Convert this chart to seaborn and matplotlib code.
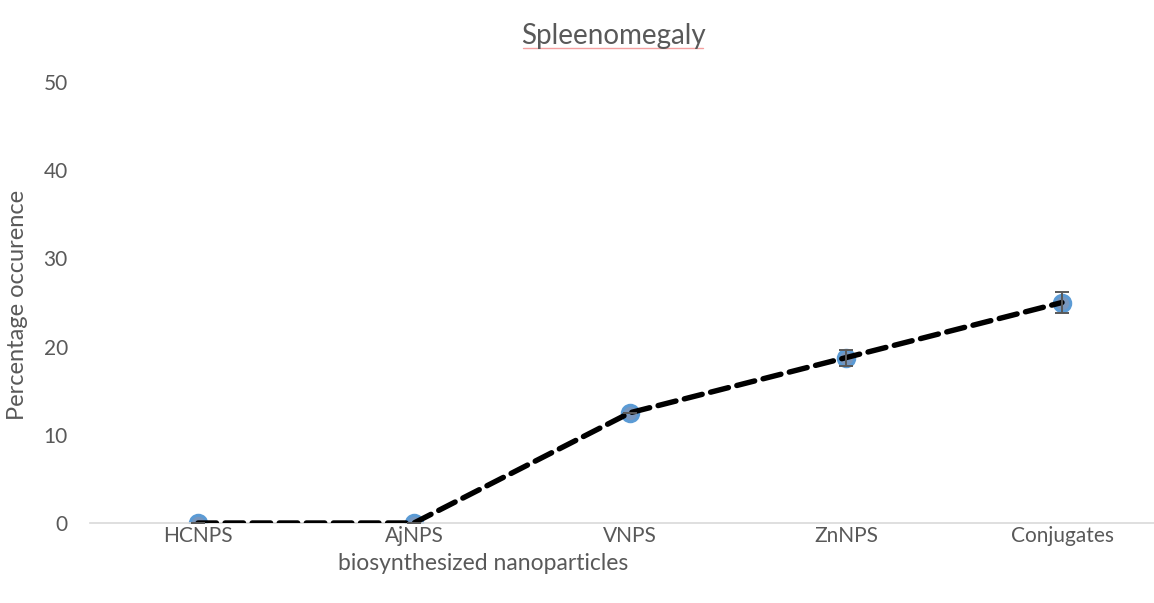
import matplotlib
matplotlib.use("Agg")
import matplotlib.pyplot as plt
import seaborn as sns
import pandas as pd
import numpy as np

categories = ["HCNPS", "AjNPS", "VNPS", "ZnNPS", "Conjugates"]
occurrence = [0, 0, 12.5, 18.75, 25]
error = [0, 0, 0, 0.9, 1.2]
y_ticks = [0, 10, 20, 30, 40, 50]

sns.set_theme(style="white")
plt.rcParams["font.family"] = ["Lato", "DejaVu Sans"]

df = pd.DataFrame({"pos": np.arange(len(categories)), "cat": categories,
                   "val": occurrence, "err": error})

fig = plt.figure(figsize=(11.54, 6.03), dpi=100)
ax = fig.add_axes([90 / 1154, 1 - 523 / 603, 1080 / 1154, (523 - 82) / 603])

grey = "#595959"

# markers first, dashed line over them, error bars on top
sns.scatterplot(data=df, x="pos", y="val", ax=ax, s=140, color="#7896bd",
                edgecolor="#5B9BD5", linewidth=2.2, zorder=2, legend=False)
line_ax = sns.lineplot(data=df, x="pos", y="val", ax=ax, color="black",
                       linewidth=3.9, zorder=3, legend=False)
for ln in line_ax.get_lines():
    ln.set_dashes((3.4, 1.6))
    ln.set_dash_capstyle("round")
ax.errorbar(df["pos"], df["val"], yerr=df["err"], fmt="none", ecolor=grey,
            elinewidth=1.4, capsize=5, capthick=1.4, zorder=4)

ax.set_xlim(-0.5, len(categories) - 0.5)
ax.set_ylim(0, 50)
ax.set_yticks(y_ticks)
ax.set_yticklabels([str(t) for t in y_ticks])
ax.set_xticks(df["pos"])
ax.set_xticklabels(categories)
ax.tick_params(axis="both", length=0, labelsize=15, colors=grey)
ax.tick_params(axis="x", pad=2)
ax.tick_params(axis="y", pad=16)

for side in ["top", "right", "left"]:
    ax.spines[side].set_visible(False)
ax.spines["bottom"].set_color("#d9d9d9")
ax.spines["bottom"].set_linewidth(1.2)

ax.set_xlabel("")
ax.set_ylabel("")
fig.text(18 / 1154, 1 - 305 / 603, "Percentage occurence", fontsize=17,
         color=grey, ha="center", va="center", rotation=90)
fig.text(483 / 1154, 1 - 563 / 603, "biosynthesized nanoparticles",
         fontsize=16.5, color=grey, ha="center", va="center")

fig.text(613 / 1154, 1 - 36 / 603, "Spleenomegaly", fontsize=20,
         color=grey, ha="center", va="center")
fig.add_artist(plt.Line2D([523 / 1154, 703 / 1154], [1 - 48 / 603, 1 - 48 / 603],
                          color="#f4a0a0", linewidth=1))

fig.savefig("out.png", dpi=100)
